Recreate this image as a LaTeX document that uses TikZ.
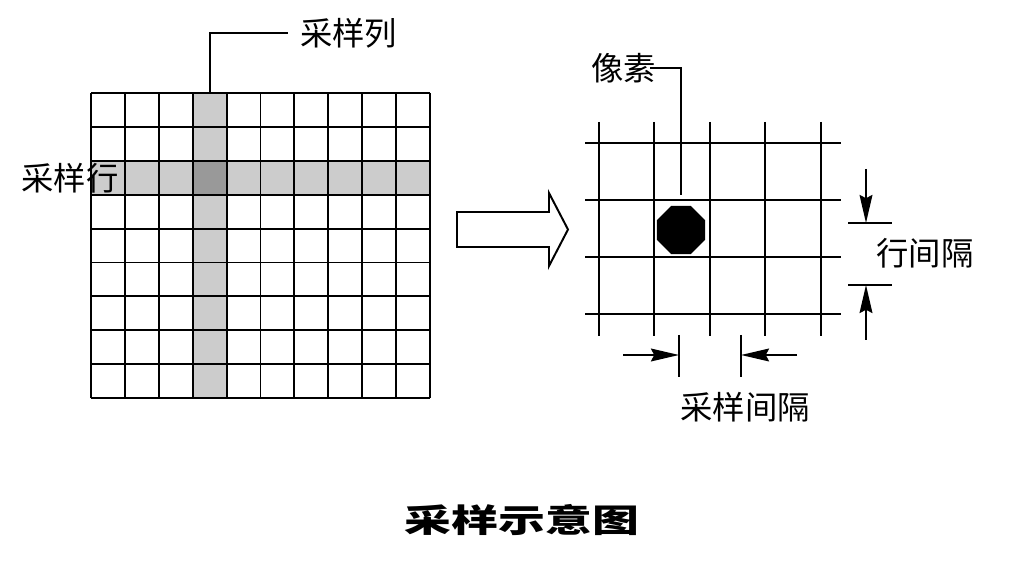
\documentclass[tikz,border=0pt]{standalone}
\usepackage{fontspec}
\newfontfamily\cjk{Noto Sans CJK SC}
\usetikzlibrary{arrows.meta,shapes.geometric}
\definecolor{hlgray}{HTML}{CCCCCC}
\definecolor{dkgray}{HTML}{999999}
\begin{document}
\begin{tikzpicture}[x=0.025cm,y=-0.025cm,
	line/.style={line width=1.4pt},
	lbl/.style={font=\cjk\fontsize{23}{23}\selectfont, inner sep=0pt},
	dim/.style={line width=1.4pt, -{Stealth[length=0.7cm,width=0.32cm,inset=0.08cm]}}]
	\useasboundingbox (0,0) rectangle (1009,582);
	% 左边网格
	\fill[hlgray] (91,160.8) rectangle (430,194.7);
	\fill[hlgray] (192.7,93) rectangle (226.6,398);
	\fill[dkgray] (192.7,160.8) rectangle (226.6,194.7);
	\foreach \i in {0,...,10}
		\draw[line] (91+\i*33.9,93) -- (91+\i*33.9,398.1);
	\foreach \j in {0,...,9}
		\draw[line] (91,93+\j*33.9) -- (430,93+\j*33.9);
	% 采样列, 采样行
	\node[lbl, anchor=west] (lblcol) at (300,33) {采样列};
	\coordinate (coltop) at (209.6,93);
	\draw[line] (coltop) |- ([xshift=-0.3cm]lblcol.west);
	\node[lbl] (lblrow) at (70,178) {采样行};
	% 空心箭头
	\draw[line] (457,212) -- (549,212) -- (549,193) -- (568,229.5)
		-- (549,266) -- (549,247) -- (457,247) -- cycle;
	% 右边网格
	\foreach \i in {0,...,4}
		\draw[line] (599+\i*55.4,122) -- (599+\i*55.4,336);
	\foreach \j in {0,...,3}
		\draw[line] (585,143.3+\j*57) -- (841,143.3+\j*57);
	% 像素
	\node[regular polygon, regular polygon sides=8, fill, minimum size=1.3cm, inner sep=0pt] (pix) at (681,230) {};
	\node[lbl, anchor=east] (lblpix) at (656,68) {像素};
	\coordinate (pixtop) at (681,195);
	\draw[line] (pixtop) |- ([xshift=-0.15cm]lblpix.east);
	% 采样间隔
	\draw[line] (679,335) -- (679,377);
	\draw[line] (741,335) -- (741,377);
	\coordinate (sl) at (623,355);
	\coordinate (sr) at (797,355);
	\draw[dim] (sl) -- (679,355);
	\draw[dim] (sr) -- (741,355);
	\node[lbl] (lblsamp) at (745,407) {采样间隔};
	% 行间隔
	\draw[line] (848,223) -- (892,223);
	\draw[line] (848,285) -- (892,285);
	\coordinate (rt) at (866,169);
	\coordinate (rb) at (866,340);
	\draw[dim] (rt) -- (866,223);
	\draw[dim] (rb) -- (866,285);
	\node[lbl] (lblrowgap) at (925,253) {行间隔};
	% 标题
	\node[lbl, font=\cjk\bfseries\fontsize{23}{23}\selectfont, xscale=1.45] (title) at (522,520) {采样示意图};
\end{tikzpicture}
\end{document}
